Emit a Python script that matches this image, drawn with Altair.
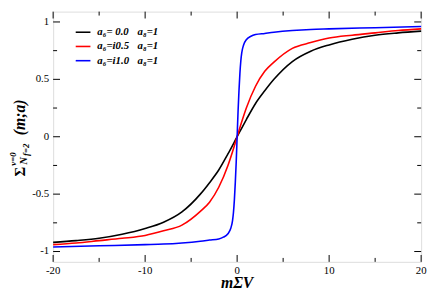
import altair as alt
import pandas as pd

# ---- data ----
x_black = [-20, -17.5, -15, -12.5, -10, -8, -6, -4, -3, -2, -1, 0, 1, 2, 3, 4, 6, 8, 10, 12.5, 15, 17.5, 20]
y_black = [-0.92, -0.905, -0.885, -0.85, -0.80, -0.745, -0.655, -0.50, -0.40, -0.29, -0.15, 0.0,
           0.15, 0.29, 0.40, 0.50, 0.655, 0.745, 0.80, 0.85, 0.885, 0.905, 0.92]

x_red = [-20, -17.5, -15, -12.5, -10, -8, -6, -4, -3, -2, -1, -0.5, 0, 0.5, 1, 2, 3, 4, 6, 8, 10, 12.5, 15, 17.5, 20]
y_red = [-0.94, -0.925, -0.905, -0.885, -0.86, -0.82, -0.77, -0.65, -0.57, -0.44, -0.25, -0.13, 0.0,
         0.13, 0.25, 0.44, 0.57, 0.65, 0.77, 0.82, 0.86, 0.885, 0.905, 0.925, 0.94]

x_blue = [-20, -15, -10, -8, -6, -4, -3, -2, -1.5, -1, -0.7, -0.5, -0.4, -0.3, -0.2, -0.1, 0,
          0.1, 0.2, 0.3, 0.4, 0.5, 0.7, 1, 1.5, 2, 3, 4, 6, 8, 10, 15, 20]
y_blue = [-0.96, -0.95, -0.94, -0.935, -0.925, -0.91, -0.90, -0.89, -0.875, -0.845, -0.80, -0.73, -0.66,
          -0.55, -0.40, -0.22, 0.0, 0.22, 0.40, 0.55, 0.66, 0.73, 0.80, 0.845, 0.875, 0.89, 0.90, 0.91,
          0.925, 0.935, 0.94, 0.95, 0.96]

series_labels = ["a₆= 0.0", "a₆=i0.5", "a₆=i1.0"]
label_a8 = "a₈=1"
series_colors = ["#000000", "#ff0000", "#0000ff"]

x_major = [-20, -10, 0, 10, 20]
x_major_labels = ["-20", "-10", "0", "10", "20"]
x_minor = [-15, -5, 5, 15]
y_major = [-1, -0.5, 0, 0.5, 1]
y_major_labels = ["-1", "-0.5", "0", "0.5", "1"]
y_minor = [-0.75, -0.25, 0.25, 0.75]

x_title = "mΣV"
y_title_parts = ["Σ", "ν=0", "N", "f=2", "(m;a)"]

# ---- build ----
W, H = 375, 255
FONT = "Liberation Serif"

rows = []
for lab, xs_, ys_ in zip(series_labels, [x_black, x_red, x_blue], [y_black, y_red, y_blue]):
    for a, b in zip(xs_, ys_):
        rows.append({"x": a, "y": b, "series": lab})
curves = pd.DataFrame(rows)

xs = alt.Scale(domain=[-20, 20], nice=False, zero=False)
ys = alt.Scale(domain=[-1.09, 1.09], nice=False, zero=False)

lines = alt.Chart(curves).mark_line(strokeWidth=1.6, interpolate="monotone").encode(
    x=alt.X("x:Q", scale=xs, axis=None),
    y=alt.Y("y:Q", scale=ys, axis=None),
    color=alt.Color("series:N", scale=alt.Scale(domain=series_labels, range=series_colors), legend=None),
    detail="series:N",
)

layers = [lines]

def xticks(vals, length):
    df = pd.DataFrame({"x": vals})
    bot = alt.Chart(df).mark_rule(color="black", strokeWidth=1).encode(
        x=alt.X("x:Q", scale=xs, axis=None), y=alt.value(H), y2=alt.value(H - length))
    top = alt.Chart(df).mark_rule(color="black", strokeWidth=1).encode(
        x=alt.X("x:Q", scale=xs, axis=None), y=alt.value(0), y2=alt.value(length))
    return [bot, top]

def yticks(vals, length):
    df = pd.DataFrame({"y": vals})
    left = alt.Chart(df).mark_rule(color="black", strokeWidth=1).encode(
        y=alt.Y("y:Q", scale=ys, axis=None), x=alt.value(0), x2=alt.value(length))
    right = alt.Chart(df).mark_rule(color="black", strokeWidth=1).encode(
        y=alt.Y("y:Q", scale=ys, axis=None), x=alt.value(W), x2=alt.value(W - length))
    return [left, right]

layers += xticks(x_major, 7) + xticks(x_minor, 4) + yticks(y_major, 7) + yticks(y_minor, 4)

# tick labels
layers.append(alt.Chart(pd.DataFrame({"x": x_major, "t": x_major_labels})).mark_text(
    font=FONT, fontSize=11, align="center", baseline="top", color="black").encode(
    x=alt.X("x:Q", scale=xs, axis=None), y=alt.value(H + 3), text="t:N"))
layers.append(alt.Chart(pd.DataFrame({"y": y_major, "t": y_major_labels})).mark_text(
    font=FONT, fontSize=11, align="right", baseline="middle", color="black").encode(
    y=alt.Y("y:Q", scale=ys, axis=None), x=alt.value(-4), text="t:N"))

# legend (manual)
leg_y = [21, 35.5, 50]
for lab, col, yy in zip(series_labels, series_colors, leg_y):
    df = pd.DataFrame({"t": [lab], "t2": [label_a8]})
    layers.append(alt.Chart(df).mark_rule(color=col, strokeWidth=1.6).encode(
        x=alt.value(23), x2=alt.value(38), y=alt.value(yy)))
    layers.append(alt.Chart(df).mark_text(font=FONT, fontSize=11, fontStyle="italic", fontWeight="bold",
                                          align="left", baseline="middle", color="black").encode(
        x=alt.value(45), y=alt.value(yy), text="t:N"))
    layers.append(alt.Chart(df).mark_text(font=FONT, fontSize=11, fontStyle="italic", fontWeight="bold",
                                          align="left", baseline="middle", color="black").encode(
        x=alt.value(86), y=alt.value(yy), text="t2:N"))

# x title
layers.append(alt.Chart(pd.DataFrame({"t": [x_title]})).mark_text(
    font=FONT, fontSize=16, fontStyle="italic", fontWeight="bold", align="center",
    baseline="alphabetic", color="black").encode(x=alt.value(W / 2), y=alt.value(281.5), text="t:N"))

# y title pieces (rotated)
yt_specs = [
    (y_title_parts[0], 15, "normal", -29, 168),
    (y_title_parts[1], 9, "italic", -37.5, 157),
    (y_title_parts[2], 11, "italic", -26.5, 156),
    (y_title_parts[3], 9, "italic", -25, 147),
    (y_title_parts[4], 16, "italic", -29, 126),
]
for txt, fs, style, xx, yy in yt_specs:
    layers.append(alt.Chart(pd.DataFrame({"t": [txt]})).mark_text(
        font=FONT, fontSize=fs, fontStyle=style, fontWeight="bold", align="left",
        baseline="alphabetic", angle=270, color="black").encode(
        x=alt.value(xx), y=alt.value(yy), text="t:N"))

chart = alt.layer(*layers).properties(
    width=W, height=H,
    autosize=alt.AutoSizeParams(type="none"),
    padding={"left": 46, "top": 1, "right": 7, "bottom": 27},
).configure_view(stroke="black", strokeWidth=1.5).configure(background="white")

chart.save("out.html", embed_options={"renderer": "svg", "actions": False})
